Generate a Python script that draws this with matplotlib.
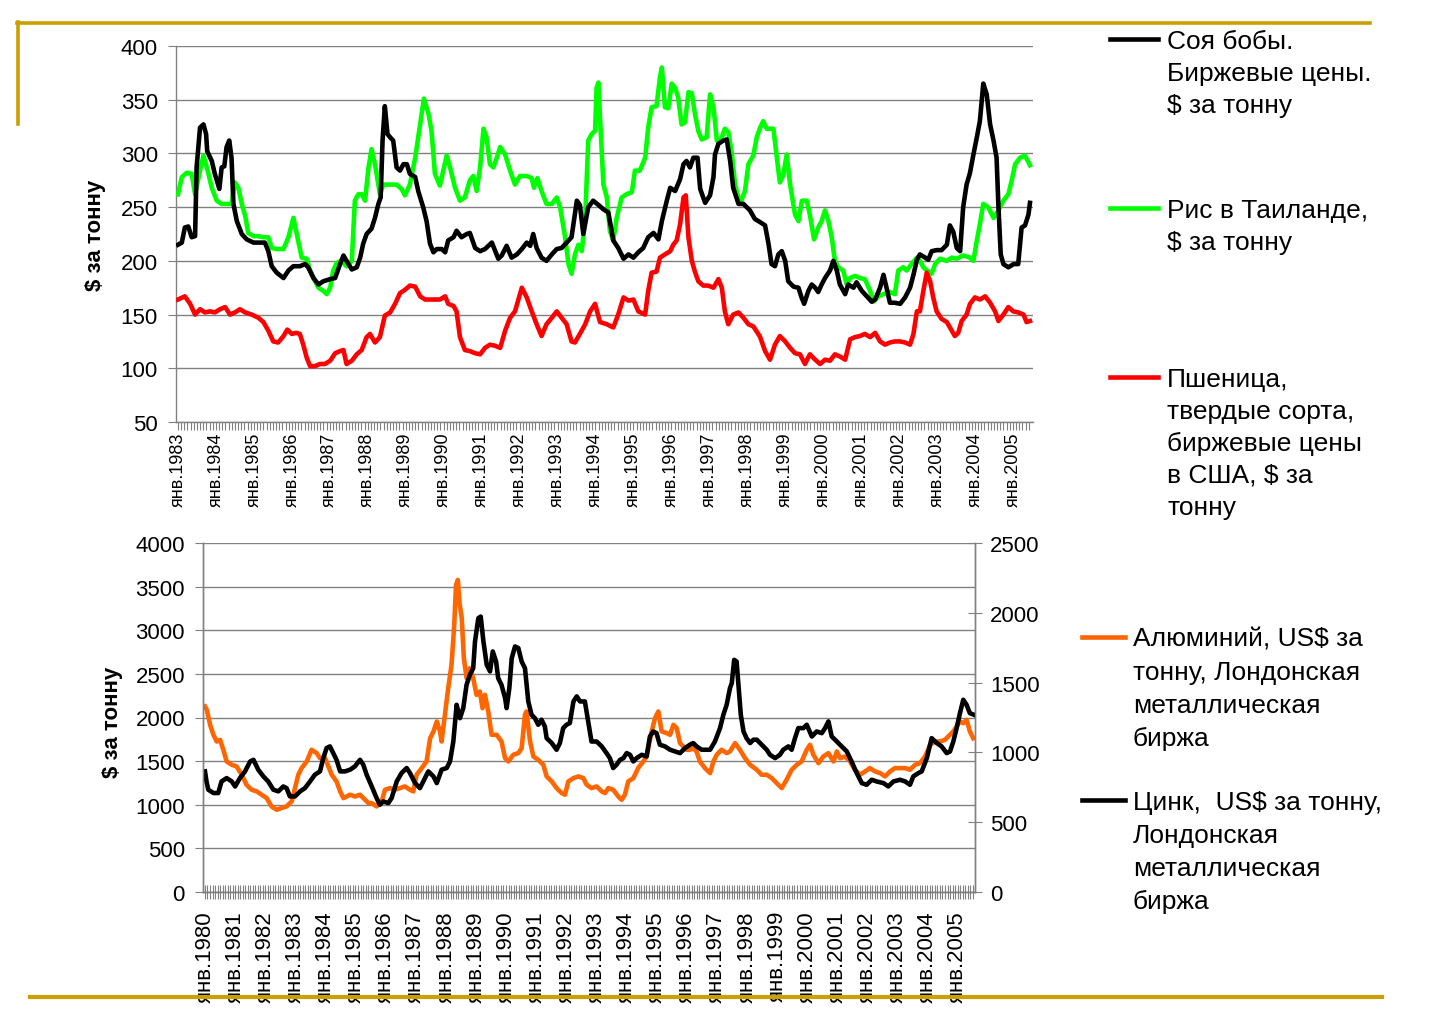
import numpy as np
import matplotlib
matplotlib.use("Agg")
import matplotlib.pyplot as plt
from matplotlib.lines import Line2D
from matplotlib.ticker import FixedLocator, NullFormatter

plt.rcParams['font.family'] = ['Liberation Sans', 'DejaVu Sans']

# ---------------- top chart data (decimal year, $ per tonne) ----------------
soy_year = [1983.00, 1983.10, 1983.18, 1983.27, 1983.36, 1983.45, 1983.49, 1983.58, 1983.67, 1983.74,
            1983.77, 1983.89, 1983.97, 1984.09, 1984.15, 1984.22, 1984.28, 1984.35, 1984.41, 1984.46,
            1984.55, 1984.68, 1984.81, 1984.99, 1985.16, 1985.29, 1985.38, 1985.47, 1985.60, 1985.78,
            1985.91, 1986.04, 1986.21, 1986.35, 1986.43, 1986.57, 1986.70, 1986.83, 1987.01, 1987.14,
            1987.27, 1987.36, 1987.44, 1987.58, 1987.71, 1987.80, 1987.88, 1987.97, 1988.10, 1988.19,
            1988.28, 1988.34, 1988.39, 1988.45, 1988.52, 1988.59, 1988.67, 1988.76, 1988.85, 1988.94,
            1989.03, 1989.11, 1989.25, 1989.33, 1989.46, 1989.55, 1989.64, 1989.73, 1989.82, 1989.95,
            1990.04, 1990.12, 1990.26, 1990.34, 1990.47, 1990.61, 1990.69, 1990.83, 1990.96, 1991.09,
            1991.27, 1991.44, 1991.53, 1991.66, 1991.79, 1991.93, 1992.06, 1992.19, 1992.28, 1992.36,
            1992.45, 1992.58, 1992.71, 1992.85, 1992.98, 1993.11, 1993.24, 1993.37, 1993.51, 1993.59,
            1993.68, 1993.81, 1993.94, 1994.08, 1994.21, 1994.34, 1994.47, 1994.60, 1994.74, 1994.87,
            1995.00, 1995.13, 1995.26, 1995.39, 1995.53, 1995.66, 1995.75, 1995.88, 1995.97, 1996.10,
            1996.23, 1996.32, 1996.40, 1996.49, 1996.58, 1996.69, 1996.76, 1996.89, 1997.02, 1997.11,
            1997.15, 1997.24, 1997.37, 1997.46, 1997.55, 1997.63, 1997.77, 1997.90, 1998.07, 1998.20,
            1998.34, 1998.47, 1998.56, 1998.64, 1998.73, 1998.82, 1998.91, 1999.00, 1999.08, 1999.22,
            1999.35, 1999.43, 1999.50, 1999.61, 1999.70, 1999.79, 1999.87, 1999.96, 2000.05, 2000.18,
            2000.27, 2000.36, 2000.44, 2000.58, 2000.66, 2000.80, 2000.88, 2001.02, 2001.15, 2001.28,
            2001.37, 2001.50, 2001.59, 2001.67, 2001.76, 2001.89, 2002.03, 2002.16, 2002.29, 2002.38,
            2002.47, 2002.55, 2002.69, 2002.77, 2002.86, 2002.99, 2003.12, 2003.26, 2003.34, 2003.43,
            2003.52, 2003.61, 2003.69, 2003.78, 2003.87, 2003.96, 2004.05, 2004.13, 2004.22, 2004.31,
            2004.40, 2004.49, 2004.57, 2004.62, 2004.68, 2004.75, 2004.88, 2005.02, 2005.14, 2005.23,
            2005.32, 2005.41, 2005.45]
soy_price = [215, 217, 231, 232, 222, 223, 287, 324, 327, 318,
             302, 293, 281, 267, 287, 288, 306, 312, 296, 253,
             237, 225, 220, 217, 217, 217, 209, 195, 189, 184,
             191, 195, 195, 197, 194, 184, 178, 181, 183, 184,
             197, 205, 200, 192, 194, 203, 216, 225, 230, 240,
             253, 259, 312, 344, 318, 315, 312, 287, 284, 290,
             290, 281, 278, 265, 250, 237, 216, 208, 211, 211,
             208, 219, 222, 228, 222, 225, 226, 212, 209, 211,
             217, 202, 205, 214, 203, 206, 211, 217, 214, 225,
             212, 203, 200, 206, 211, 212, 217, 222, 256, 252,
             225, 250, 256, 252, 248, 245, 219, 212, 202, 206,
             203, 208, 212, 222, 226, 220, 237, 256, 268, 265,
             276, 290, 293, 287, 296, 296, 267, 254, 261, 278,
             299, 309, 312, 313, 293, 268, 253, 253, 247, 239,
             236, 233, 216, 197, 195, 206, 209, 200, 181, 176,
             175, 166, 160, 172, 178, 175, 171, 178, 184, 191,
             200, 191, 178, 169, 178, 175, 180, 172, 167, 162,
             164, 175, 187, 175, 161, 161, 160, 166, 175, 187,
             201, 206, 203, 201, 209, 210, 210, 215, 233, 227,
             212, 209, 250, 271, 282, 299, 315, 330, 365, 355,
             327, 312, 296, 250, 206, 197, 194, 197, 197, 231,
             233, 243, 254]

rice_year = [1983.00, 1983.10, 1983.23, 1983.36, 1983.45, 1983.58, 1983.67, 1983.76, 1983.89, 1984.02,
             1984.15, 1984.28, 1984.41, 1984.50, 1984.59, 1984.68, 1984.77, 1984.85, 1984.99, 1985.12,
             1985.25, 1985.38, 1985.47, 1985.60, 1985.78, 1985.91, 1986.04, 1986.13, 1986.26, 1986.39,
             1986.48, 1986.57, 1986.70, 1986.83, 1986.92, 1987.01, 1987.09, 1987.18, 1987.31, 1987.44,
             1987.58, 1987.66, 1987.75, 1987.84, 1987.93, 1988.02, 1988.10, 1988.19, 1988.32, 1988.41,
             1988.59, 1988.76, 1988.89, 1988.98, 1989.11, 1989.25, 1989.38, 1989.48, 1989.60, 1989.68,
             1989.77, 1989.90, 1989.99, 1990.08, 1990.17, 1990.30, 1990.43, 1990.56, 1990.69, 1990.78,
             1990.87, 1990.96, 1991.05, 1991.13, 1991.22, 1991.31, 1991.40, 1991.49, 1991.62, 1991.75,
             1991.88, 1992.01, 1992.19, 1992.32, 1992.38, 1992.47, 1992.58, 1992.71, 1992.85, 1992.98,
             1993.07, 1993.20, 1993.29, 1993.37, 1993.46, 1993.55, 1993.64, 1993.73, 1993.81, 1993.90,
             1993.99, 1994.03, 1994.08, 1994.12, 1994.21, 1994.30, 1994.38, 1994.47, 1994.56, 1994.69,
             1994.82, 1994.96, 1995.04, 1995.17, 1995.31, 1995.39, 1995.48, 1995.61, 1995.70, 1995.75,
             1995.83, 1995.92, 1996.01, 1996.10, 1996.18, 1996.27, 1996.36, 1996.45, 1996.54, 1996.62,
             1996.71, 1996.80, 1996.93, 1997.02, 1997.11, 1997.20, 1997.28, 1997.41, 1997.50, 1997.59,
             1997.68, 1997.81, 1997.94, 1998.03, 1998.16, 1998.25, 1998.34, 1998.42, 1998.51, 1998.69,
             1998.78, 1998.86, 1998.95, 1999.04, 1999.13, 1999.26, 1999.35, 1999.44, 1999.57, 1999.65,
             1999.76, 1999.87, 1999.96, 2000.05, 2000.14, 2000.23, 2000.31, 2000.40, 2000.53, 2000.62,
             2000.71, 2000.84, 2000.97, 2001.10, 2001.24, 2001.32, 2001.46, 2001.59, 2001.76, 2001.89,
             2001.98, 2002.11, 2002.20, 2002.33, 2002.47, 2002.55, 2002.64, 2002.77, 2002.86, 2002.95,
             2003.08, 2003.26, 2003.39, 2003.52, 2003.69, 2003.87, 2003.96, 2004.05, 2004.13, 2004.22,
             2004.35, 2004.49, 2004.62, 2004.75, 2004.88, 2004.97, 2005.06, 2005.19, 2005.32, 2005.45]
rice_price = [262, 278, 282, 281, 262, 284, 298, 287, 268, 256,
              253, 253, 253, 273, 268, 253, 242, 226, 223, 223,
              222, 222, 212, 211, 211, 222, 240, 225, 203, 202,
              191, 184, 175, 172, 169, 175, 191, 198, 200, 195,
              200, 256, 262, 262, 256, 287, 304, 290, 262, 271,
              271, 271, 267, 261, 271, 296, 327, 351, 337, 321,
              281, 270, 284, 298, 287, 268, 256, 259, 275, 279,
              265, 287, 323, 315, 290, 287, 296, 306, 299, 284,
              271, 279, 279, 277, 268, 277, 265, 253, 253, 259,
              250, 222, 197, 188, 206, 215, 209, 240, 312, 318,
              321, 361, 366, 333, 271, 259, 228, 219, 240, 259,
              262, 264, 284, 284, 296, 324, 343, 344, 371, 380,
              343, 342, 365, 361, 352, 327, 329, 357, 356, 337,
              321, 313, 315, 355, 343, 312, 310, 323, 320, 301,
              271, 253, 265, 290, 298, 315, 324, 330, 323, 323,
              296, 273, 280, 299, 271, 243, 237, 256, 256, 243,
              220, 231, 237, 247, 237, 221, 200, 194, 191, 178,
              184, 186, 184, 183, 172, 162, 167, 169, 171, 169,
              191, 194, 191, 197, 203, 200, 194, 190, 188, 197,
              202, 200, 203, 202, 205, 203, 200, 219, 234, 253,
              250, 240, 247, 256, 262, 275, 290, 296, 298, 289]

wheat_year = [1983.00, 1983.18, 1983.32, 1983.45, 1983.58, 1983.71, 1983.84, 1983.97, 1984.11, 1984.24,
              1984.37, 1984.50, 1984.63, 1984.77, 1984.94, 1985.12, 1985.25, 1985.38, 1985.51, 1985.64,
              1985.78, 1985.88, 1986.00, 1986.11, 1986.21, 1986.30, 1986.39, 1986.48, 1986.61, 1986.74,
              1986.87, 1987.01, 1987.14, 1987.27, 1987.36, 1987.44, 1987.58, 1987.71, 1987.84, 1987.97,
              1988.06, 1988.19, 1988.32, 1988.45, 1988.59, 1988.72, 1988.85, 1988.98, 1989.11, 1989.25,
              1989.38, 1989.51, 1989.64, 1989.77, 1989.90, 1990.04, 1990.12, 1990.26, 1990.34, 1990.43,
              1990.56, 1990.69, 1990.83, 1990.96, 1991.09, 1991.22, 1991.35, 1991.49, 1991.62, 1991.75,
              1991.88, 1992.06, 1992.19, 1992.32, 1992.45, 1992.58, 1992.71, 1992.85, 1992.98, 1993.11,
              1993.24, 1993.37, 1993.46, 1993.59, 1993.73, 1993.86, 1993.99, 1994.12, 1994.30, 1994.47,
              1994.60, 1994.74, 1994.87, 1995.00, 1995.13, 1995.31, 1995.39, 1995.48, 1995.61, 1995.70,
              1995.83, 1995.97, 1996.05, 1996.14, 1996.23, 1996.32, 1996.38, 1996.45, 1996.54, 1996.62,
              1996.71, 1996.84, 1996.97, 1997.11, 1997.24, 1997.33, 1997.41, 1997.50, 1997.63, 1997.77,
              1997.90, 1998.03, 1998.16, 1998.29, 1998.34, 1998.47, 1998.60, 1998.73, 1998.86, 1999.00,
              1999.13, 1999.26, 1999.39, 1999.52, 1999.65, 1999.79, 1999.92, 2000.05, 2000.18, 2000.31,
              2000.44, 2000.58, 2000.71, 2000.84, 2000.97, 2001.10, 2001.24, 2001.37, 2001.50, 2001.63,
              2001.76, 2001.89, 2002.03, 2002.16, 2002.29, 2002.38, 2002.47, 2002.55, 2002.64, 2002.73,
              2002.82, 2002.90, 2002.99, 2003.12, 2003.26, 2003.39, 2003.47, 2003.56, 2003.65, 2003.78,
              2003.87, 2004.00, 2004.13, 2004.27, 2004.40, 2004.53, 2004.62, 2004.75, 2004.88, 2005.01,
              2005.14, 2005.28, 2005.36, 2005.45]
wheat_price = [164, 167, 160, 150, 155, 152, 153, 152, 155, 157,
               150, 152, 155, 152, 150, 147, 143, 135, 125, 124,
               130, 136, 132, 133, 132, 122, 110, 102, 102, 104,
               104, 107, 114, 116, 117, 104, 107, 113, 117, 129,
               132, 124, 129, 149, 152, 160, 170, 173, 177, 176,
               167, 164, 164, 164, 164, 167, 160, 158, 153, 129,
               117, 116, 114, 113, 119, 122, 121, 119, 135, 147,
               153, 175, 166, 153, 141, 130, 141, 147, 153, 147,
               141, 125, 124, 132, 141, 153, 160, 143, 141, 138,
               150, 166, 163, 164, 153, 150, 172, 189, 190, 203,
               206, 209, 215, 219, 234, 259, 261, 222, 200, 190,
               181, 177, 177, 175, 183, 175, 153, 141, 150, 152,
               147, 141, 139, 132, 129, 116, 108, 122, 130, 125,
               119, 114, 113, 104, 113, 108, 104, 108, 107, 113,
               111, 108, 127, 129, 130, 132, 129, 133, 125, 122,
               124, 125, 125, 124, 122, 132, 153, 153, 172, 189,
               181, 166, 153, 146, 143, 135, 130, 133, 144, 150,
               160, 166, 164, 167, 161, 153, 144, 150, 157, 153,
               152, 150, 143, 144]

# ---------------- bottom chart data (decimal year, US$ per tonne) ----------------
alu_year = [1980.00, 1980.06, 1980.17, 1980.28, 1980.39, 1980.50, 1980.61, 1980.72, 1980.89, 1981.05,
            1981.22, 1981.38, 1981.55, 1981.72, 1981.88, 1982.05, 1982.21, 1982.38, 1982.55, 1982.71,
            1982.88, 1982.99, 1983.10, 1983.21, 1983.38, 1983.54, 1983.71, 1983.82, 1983.99, 1984.10,
            1984.21, 1984.37, 1984.49, 1984.60, 1984.71, 1984.82, 1984.98, 1985.15, 1985.32, 1985.43,
            1985.54, 1985.70, 1985.87, 1985.98, 1986.15, 1986.31, 1986.48, 1986.64, 1986.81, 1986.92,
            1987.03, 1987.20, 1987.36, 1987.48, 1987.59, 1987.70, 1987.81, 1987.86, 1987.97, 1988.08,
            1988.19, 1988.28, 1988.34, 1988.40, 1988.46, 1988.53, 1988.60, 1988.69, 1988.80, 1988.91,
            1989.02, 1989.13, 1989.22, 1989.30, 1989.41, 1989.52, 1989.69, 1989.85, 1989.97, 1990.08,
            1990.24, 1990.41, 1990.52, 1990.63, 1990.68, 1990.80, 1990.91, 1991.07, 1991.24, 1991.35,
            1991.52, 1991.68, 1991.85, 1991.96, 1992.07, 1992.24, 1992.40, 1992.57, 1992.68, 1992.84,
            1993.01, 1993.18, 1993.29, 1993.40, 1993.56, 1993.73, 1993.84, 1993.95, 1994.06, 1994.23,
            1994.39, 1994.56, 1994.67, 1994.84, 1994.95, 1995.06, 1995.17, 1995.34, 1995.45, 1995.56,
            1995.67, 1995.78, 1995.89, 1996.00, 1996.11, 1996.22, 1996.33, 1996.44, 1996.61, 1996.78,
            1996.89, 1997.00, 1997.16, 1997.33, 1997.44, 1997.61, 1997.77, 1997.94, 1998.11, 1998.33,
            1998.49, 1998.66, 1998.83, 1998.99, 1999.16, 1999.32, 1999.49, 1999.66, 1999.82, 1999.99,
            2000.10, 2000.21, 2000.38, 2000.54, 2000.71, 2000.88, 2000.99, 2001.10, 2001.26, 2001.43,
            2001.59, 2001.76, 2001.93, 2002.09, 2002.26, 2002.43, 2002.59, 2002.76, 2002.92, 2003.09,
            2003.26, 2003.42, 2003.59, 2003.75, 2003.92, 2004.09, 2004.25, 2004.42, 2004.58, 2004.75,
            2004.86, 2004.97, 2005.08, 2005.19, 2005.30, 2005.41, 2005.52]
alu_price = [2126, 2088, 1916, 1802, 1725, 1744, 1630, 1496, 1458, 1439,
             1344, 1229, 1172, 1153, 1115, 1076, 981, 943, 962, 981,
             1038, 1191, 1344, 1420, 1496, 1630, 1592, 1534, 1534, 1439,
             1344, 1267, 1153, 1076, 1095, 1115, 1095, 1115, 1057, 1019,
             1019, 981, 1038, 1172, 1191, 1172, 1191, 1210, 1172, 1153,
             1344, 1420, 1496, 1763, 1840, 1954, 1840, 1725, 2031, 2336,
             2603, 3061, 3519, 3577, 3300, 3138, 2680, 2450, 2565, 2450,
             2260, 2298, 2107, 2260, 2069, 1802, 1802, 1725, 1534, 1496,
             1573, 1592, 1649, 2031, 2069, 1725, 1553, 1515, 1458, 1325,
             1267, 1191, 1134, 1115, 1267, 1305, 1325, 1305, 1229, 1191,
             1210, 1153, 1134, 1191, 1172, 1095, 1057, 1115, 1267, 1305,
             1420, 1496, 1553, 1840, 1992, 2069, 1840, 1821, 1802, 1916,
             1878, 1706, 1668, 1630, 1630, 1649, 1611, 1496, 1420, 1363,
             1496, 1573, 1630, 1592, 1611, 1706, 1630, 1534, 1458, 1401,
             1344, 1344, 1305, 1248, 1191, 1286, 1401, 1458, 1496, 1630,
             1687, 1573, 1477, 1553, 1592, 1496, 1611, 1534, 1553, 1496,
             1401, 1344, 1382, 1420, 1382, 1363, 1325, 1382, 1420, 1420,
             1420, 1401, 1458, 1477, 1553, 1687, 1725, 1725, 1744, 1802,
             1840, 1897, 1954, 1935, 1973, 1840, 1763]

zinc_year = [1980.00, 1980.05, 1980.11, 1980.28, 1980.44, 1980.55, 1980.72, 1980.89, 1981.00, 1981.16,
             1981.33, 1981.50, 1981.61, 1981.77, 1981.94, 1982.10, 1982.27, 1982.44, 1982.60, 1982.71,
             1982.82, 1982.99, 1983.16, 1983.32, 1983.49, 1983.65, 1983.82, 1983.93, 1984.04, 1984.15,
             1984.26, 1984.37, 1984.49, 1984.65, 1984.82, 1984.98, 1985.15, 1985.26, 1985.37, 1985.54,
             1985.70, 1985.81, 1985.92, 1986.09, 1986.20, 1986.37, 1986.53, 1986.70, 1986.81, 1986.98,
             1987.14, 1987.31, 1987.42, 1987.59, 1987.70, 1987.86, 1988.03, 1988.14, 1988.25, 1988.36,
             1988.47, 1988.58, 1988.69, 1988.80, 1988.91, 1988.97, 1989.08, 1989.16, 1989.25, 1989.36,
             1989.47, 1989.56, 1989.67, 1989.74, 1989.85, 1989.97, 1990.02, 1990.11, 1990.19, 1990.30,
             1990.41, 1990.52, 1990.63, 1990.74, 1990.85, 1990.96, 1991.07, 1991.18, 1991.29, 1991.35,
             1991.52, 1991.68, 1991.79, 1991.90, 1992.01, 1992.12, 1992.24, 1992.35, 1992.46, 1992.62,
             1992.73, 1992.84, 1993.01, 1993.18, 1993.34, 1993.45, 1993.56, 1993.67, 1993.79, 1993.90,
             1994.01, 1994.12, 1994.23, 1994.34, 1994.51, 1994.67, 1994.78, 1994.89, 1995.00, 1995.11,
             1995.28, 1995.45, 1995.61, 1995.78, 1995.95, 1996.11, 1996.22, 1996.33, 1996.50, 1996.66,
             1996.78, 1996.94, 1997.11, 1997.22, 1997.33, 1997.44, 1997.50, 1997.58, 1997.66, 1997.72,
             1997.80, 1997.89, 1997.99, 1998.11, 1998.22, 1998.33, 1998.44, 1998.55, 1998.66, 1998.77,
             1998.94, 1999.10, 1999.21, 1999.38, 1999.49, 1999.60, 1999.71, 1999.88, 1999.99, 2000.16,
             2000.32, 2000.49, 2000.60, 2000.71, 2000.82, 2000.99, 2001.15, 2001.32, 2001.48, 2001.65,
             2001.82, 2001.98, 2002.15, 2002.31, 2002.54, 2002.70, 2002.87, 2003.09, 2003.26, 2003.42,
             2003.53, 2003.70, 2003.81, 2003.98, 2004.14, 2004.31, 2004.47, 2004.64, 2004.75, 2004.86,
             2004.97, 2005.08, 2005.19, 2005.30, 2005.41, 2005.55]
zinc_price = [864, 792, 733, 709, 709, 792, 816, 792, 756, 816,
              864, 935, 947, 876, 828, 792, 733, 721, 756, 744,
              685, 685, 721, 744, 792, 840, 864, 959, 1031, 1043,
              995, 947, 864, 864, 876, 900, 947, 911, 840, 756,
              673, 625, 649, 637, 673, 792, 852, 888, 852, 780,
              744, 816, 864, 828, 780, 876, 888, 935, 1078, 1341,
              1245, 1317, 1484, 1556, 1603, 1794, 1961, 1973, 1794, 1627,
              1580, 1723, 1651, 1532, 1484, 1389, 1317, 1460, 1675, 1759,
              1747, 1651, 1603, 1365, 1269, 1245, 1198, 1234, 1186, 1102,
              1067, 1019, 1067, 1174, 1198, 1210, 1365, 1401, 1365, 1365,
              1222, 1078, 1078, 1043, 995, 959, 888, 911, 947, 959,
              995, 983, 935, 959, 983, 971, 1114, 1150, 1138, 1055,
              1043, 1019, 1007, 995, 1031, 1055, 1067, 1043, 1019, 1019,
              1019, 1078, 1174, 1269, 1341, 1460, 1496, 1663, 1651, 1484,
              1269, 1150, 1102, 1067, 1091, 1091, 1067, 1043, 1019, 983,
              959, 983, 1019, 1043, 1019, 1102, 1174, 1174, 1198, 1114,
              1150, 1138, 1174, 1222, 1114, 1078, 1043, 1007, 935, 852,
              780, 768, 804, 792, 780, 756, 792, 804, 792, 768,
              828, 852, 864, 959, 1102, 1067, 1043, 995, 1007, 1078,
              1174, 1281, 1377, 1341, 1281, 1269]

top_years = list(range(1983, 2006))
bottom_years = list(range(1980, 2006))
top_yticks = list(range(50, 401, 50))
bottom_yticks_left = list(range(0, 4001, 500))
bottom_yticks_right = list(range(0, 2501, 500))

legend_top = [("#000000", "Соя бобы.\nБиржевые цены.\n$ за тонну"),
              ("#00FF00", "Рис в Таиланде,\n$ за тонну"),
              ("#FF0000", "Пшеница,\nтвердые сорта,\nбиржевые цены\nв США, $ за\nтонну")]
legend_bottom = [("#FF6600", "Алюминий, US$ за\nтонну, Лондонская\nметаллическая\nбиржа"),
                 ("#000000", "Цинк,  US$ за тонну,\nЛондонская\nметаллическая\nбиржа")]

# ---------------- figure ----------------
W, H = 1438, 1020
fig = plt.figure(figsize=(W / 100, H / 100), dpi=100)
fig.patch.set_facecolor("white")

def fx(px):
    return px / W

def fy(py):
    return 1 - py / H

GRID = "#808080"
LW = 3.3

# ---- top chart ----
ax1 = fig.add_axes([fx(176), fy(423), fx(1033) - fx(176), fy(47) - fy(423)])
ax1.plot(rice_year, rice_price, color="#00FF00", lw=LW, solid_joinstyle="round", zorder=3)
ax1.plot(soy_year, soy_price, color="#000000", lw=LW, solid_joinstyle="round", zorder=4)
ax1.plot(wheat_year, wheat_price, color="#FF0000", lw=LW, solid_joinstyle="round", zorder=5)
ax1.set_ylim(50, 400)
ax1.set_xlim(1982.947, 2005.53)
ax1.set_yticks(top_yticks)
ax1.set_xticks(top_years)
ax1.set_xticklabels(["янв.%d" % y for y in top_years], rotation=90, fontsize=13, va="top")
ax1.xaxis.set_minor_locator(FixedLocator(np.arange(1983, 2005.5, 1 / 12)))
ax1.xaxis.set_minor_formatter(NullFormatter())
ax1.tick_params(axis="y", labelsize=16, length=6, color=GRID, pad=7)
ax1.tick_params(axis="x", which="both", length=5.5, color=GRID, width=0.8, pad=1.5)
ax1.grid(axis="y", color=GRID, lw=1.0)
ax1.set_axisbelow(True)
for s in ["top", "right"]:
    ax1.spines[s].set_visible(False)
for s in ["left", "bottom"]:
    ax1.spines[s].set_color(GRID)
    ax1.spines[s].set_linewidth(1.0)

# ---- bottom chart ----
ax2 = fig.add_axes([fx(203), fy(893), fx(975) - fx(203), fy(544) - fy(893)])
ax2.plot(alu_year, alu_price, color="#FF6600", lw=LW, solid_joinstyle="round")
ax2.set_ylim(0, 4000)
ax2.set_xlim(1979.934, 2005.58)
ax2.set_yticks(bottom_yticks_left)
ax2.set_xticks(bottom_years)
ax2.set_xticklabels(["янв.%d" % y for y in bottom_years], rotation=90, fontsize=16, va="top")
ax2.xaxis.set_minor_locator(FixedLocator(np.arange(1980, 2005.6, 1 / 12)))
ax2.xaxis.set_minor_formatter(NullFormatter())
ax2.tick_params(axis="y", labelsize=16, length=6, color=GRID, pad=7)
ax2.tick_params(axis="x", which="both", direction="inout", length=10, color=GRID, width=0.8, pad=8)
ax2.grid(axis="y", color=GRID, lw=1.0)
ax2.set_axisbelow(True)
ax2.spines["top"].set_visible(False)
for s in ["left", "bottom", "right"]:
    ax2.spines[s].set_color(GRID)
    ax2.spines[s].set_linewidth(1.0)

ax2r = ax2.twinx()
ax2r.plot(zinc_year, zinc_price, color="#000000", lw=LW, solid_joinstyle="round")
ax2r.set_ylim(0, 2500)
ax2r.set_yticks(bottom_yticks_right)
ax2r.tick_params(axis="y", labelsize=16, direction="inout", length=10, color=GRID, pad=6)
ax2r.spines["top"].set_visible(False)
for s in ["left", "bottom", "right"]:
    ax2r.spines[s].set_color(GRID)
    ax2r.spines[s].set_linewidth(1.0)

# ---- axis titles ----
fig.text(fx(95), fy(235), "$ за тонну", rotation=90, fontsize=16, fontweight="bold",
         ha="center", va="center")
fig.text(fx(113), fy(722), "$ за тонну", rotation=90, fontsize=16, fontweight="bold",
         ha="center", va="center")

# ---- legends ----
def legend_block(entries, x_line0, x_line1, x_text, y_first, line_step, fs):
    for (color, label), y0 in zip(entries, y_first):
        fig.add_artist(Line2D([fx(x_line0), fx(x_line1)], [fy(y0), fy(y0)],
                              color=color, lw=3.3, transform=fig.transFigure))
        for i, line in enumerate(label.split("\n")):
            fig.text(fx(x_text), fy(y0 + 2 + i * line_step), line, fontsize=fs,
                     ha="left", va="center")

legend_block(legend_top, 1110, 1158, 1167, [40, 209, 378], 32, 19)
legend_block(legend_bottom, 1082, 1125, 1133, [638, 801], 33, 19)

# ---- slide decoration ----
GOLD = "#C9A000"
fig.add_artist(Line2D([fx(17), fx(1370)], [fy(24), fy(24)], color=GOLD, lw=2.6,
                      transform=fig.transFigure))
fig.add_artist(Line2D([fx(18), fx(18)], [fy(23), fy(125)], color=GOLD, lw=2.6,
                      transform=fig.transFigure))
fig.add_artist(Line2D([fx(30), fx(1382)], [fy(998), fy(998)], color=GOLD, lw=3.0,
                      transform=fig.transFigure))

fig.savefig("out.png", dpi=100, facecolor="white")
